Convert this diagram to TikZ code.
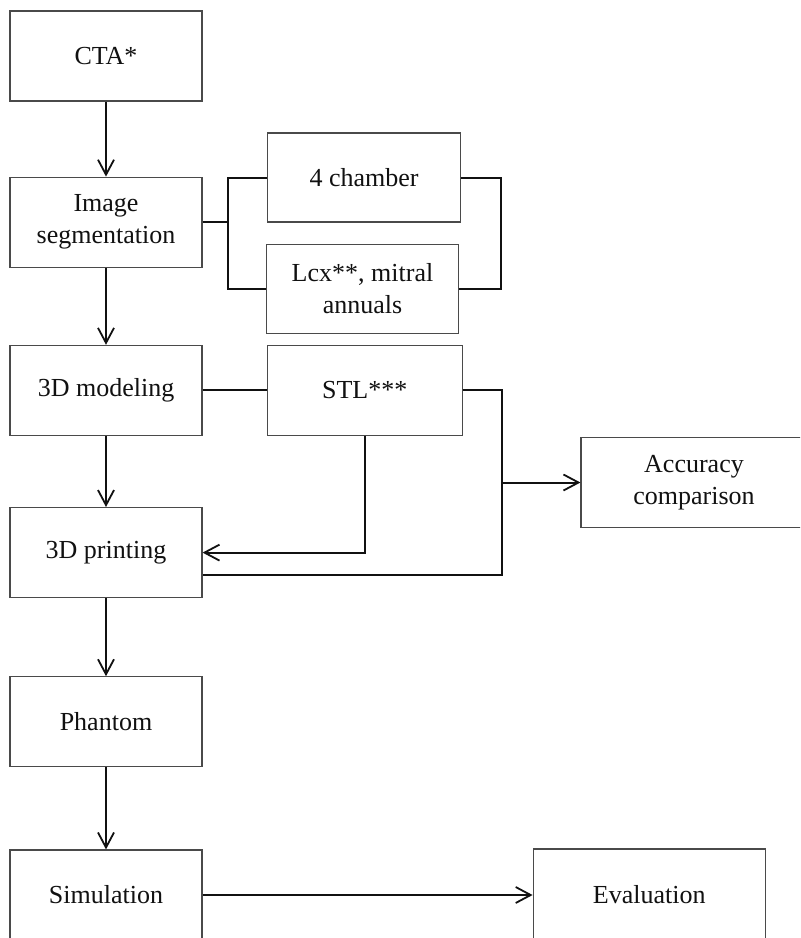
\documentclass[tikz,border=0pt]{standalone}
\usepackage{fontspec}
\setmainfont{Liberation Serif}
\usetikzlibrary{arrows.meta,positioning}
\definecolor{ink}{HTML}{111111}
\definecolor{edge}{HTML}{4A4A4A}
\tikzset{
  flow/.style={-{Straight Barb[length=7.5pt,width=8pt,line width=0.9pt]},line width=1pt,draw=ink},
  link/.style={line width=1pt,draw=ink},
  box/.style={draw=edge,line width=0.6pt,fill=white,text=ink,align=center,
              minimum width=96pt,minimum height=45pt,inner sep=2pt,
              font=\fontsize{13}{16}\selectfont},
}

\begin{document}
\begin{tikzpicture}[x=1pt,y=-1pt]
    \useasboundingbox (0,0) rectangle (400,469);
    \clip (0,0) rectangle (400,469);
    % main column
    \node[box] (cta) at (53,28) {CTA*};
    \node[box,below=37.5pt of cta] (seg) {Image\\segmentation};
    \node[box,below=38.5pt of seg] (model) {3D modeling};
    \node[box,below=35.5pt of model] (print) {3D printing};
    \node[box,below=39pt of print] (phantom) {Phantom};
    \node[box,below=41pt of phantom] (sim) {Simulation};
    % side boxes
    \node[box,minimum width=96.5pt,minimum height=44.5pt] (chamber) at (182,88.75)
      {4 chamber};
    \node[box,minimum height=44.5pt,below=10.5pt of chamber.south west,anchor=north west,
          xshift=-0.5pt] (lcx) {Lcx**, mitral\\annuals};
    \node[box,minimum width=97.5pt,right=32pt of model] (stl) {STL***};
    \node[box,minimum width=113pt] (acc) at (347,241.25) {Accuracy\\comparison};
    \node[box,minimum width=116pt,minimum height=46pt,right=165pt of sim] (eval) {Evaluation};
    \coordinate (split) at (114,0);
    \coordinate (join) at (250.5,0);
    \coordinate (fork) at (251,241.25);
    % connectors
    \draw[flow] (cta) -- (seg);
    \draw[flow] (seg) -- (model);
    \draw[flow] (model) -- (print);
    \draw[flow] (print) -- (phantom);
    \draw[flow] (phantom) -- (sim);
    \draw[link] (seg.east) -- (seg.east -| split) |- (chamber.west);
    \draw[link] (seg.east -| split) |- (lcx.west);
    \draw[link] (chamber.east) -| (chamber.east -| join) |- (lcx.east);
    \draw[link] (model) -- (stl);
    \draw[flow] (stl.south) |- (print.east);
    \draw[link] (stl.east) -| ([yshift=-11pt]print.east -| fork) -- ([yshift=-11pt]print.east);
    \draw[flow] (fork) -- (acc.west);
    \draw[flow] (sim.east) -- (eval.west);
\end{tikzpicture}
\end{document}
